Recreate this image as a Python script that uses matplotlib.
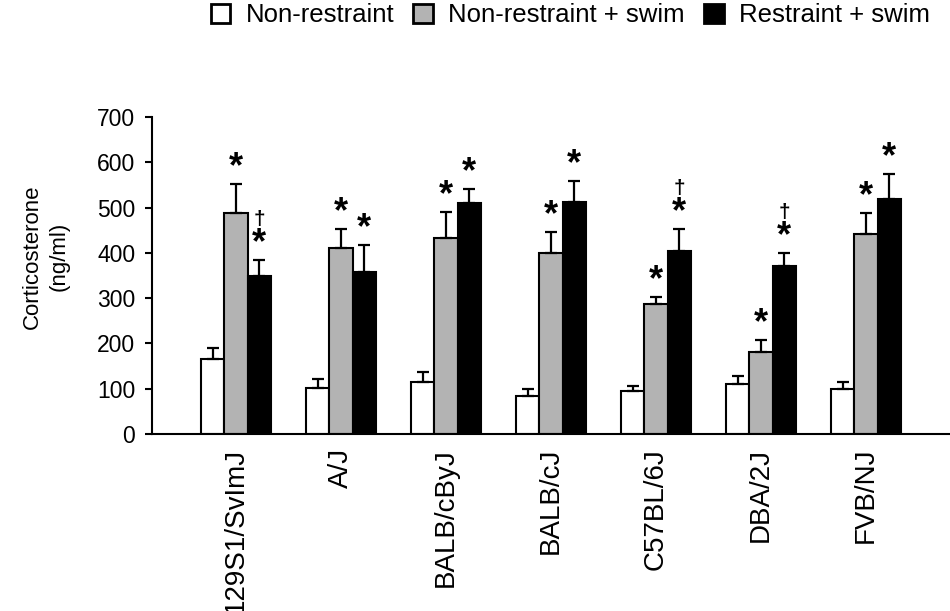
import numpy as np
import matplotlib.pyplot as plt
from matplotlib.patches import Patch

plt.rcParams['font.family'] = ['Liberation Sans', 'DejaVu Sans']

### data ###
strains = ['129S1/SvImJ', 'A/J', 'BALB/cByJ', 'BALB/cJ', 'C57BL/6J', 'DBA/2J', 'FVB/NJ']
non_restraint = [165, 102, 115, 84, 95, 110, 99]
non_restraint_err = [25, 19, 22, 15, 11, 18, 16]
nr_swim = [488, 411, 433, 400, 287, 181, 441]
nr_swim_err = [64, 42, 57, 46, 15, 26, 46]
r_swim = [349, 358, 510, 512, 404, 371, 519]
r_swim_err = [35, 59, 31, 47, 48, 28, 55]
# significance marks above bars (* vs non-restraint, † vs non-restraint + swim)
nr_swim_star = [1, 1, 1, 1, 1, 1, 1]
r_swim_star = [1, 1, 1, 1, 1, 1, 1]
r_swim_dagger = [1, 0, 0, 0, 1, 1, 0]

series = [
    ('Non-restraint', non_restraint, non_restraint_err, 'white', None, None),
    ('Non-restraint + swim', nr_swim, nr_swim_err, '#b3b3b3', nr_swim_star, None),
    ('Restraint + swim', r_swim, r_swim_err, 'black', r_swim_star, r_swim_dagger),
]

fig = plt.figure(figsize=(9.5, 6.11), dpi=100)
ax = fig.add_axes([0.16, 0.2897, 0.84, 0.5188])

x = np.arange(len(strains))
w = 0.22
handles = []
for k, (name, vals, errs, col, stars, daggers) in enumerate(series):
    pos = x + (k - 1) * w
    ax.bar(pos, vals, width=w, color=col, edgecolor='black', linewidth=1.5, zorder=2)
    ax.errorbar(pos, vals, yerr=[np.zeros(len(errs)), errs], fmt='none', ecolor='black',
                elinewidth=1.6, capsize=4, capthick=1.6, zorder=3)
    handles.append(Patch(facecolor=col, edgecolor='black', linewidth=2, label=name))
    if stars is None:
        continue
    for i in range(len(strains)):
        top = vals[i] + errs[i]
        if stars[i]:
            ax.annotate('*', (pos[i], top), xytext=(0, -1), textcoords='offset pixels',
                        ha='center', va='bottom', fontsize=26, fontweight='bold')
        if daggers is not None and daggers[i]:
            ax.annotate('\u2020', (pos[i], top), xytext=(0, 31), textcoords='offset pixels',
                        ha='center', va='bottom', fontsize=15, fontweight='bold')

ax.set_xlim(-0.8, 6.8)
ax.set_ylim(0, 700)
ax.set_yticks(range(0, 701, 100))
ax.set_xticks(x)
ax.set_xticklabels(strains, rotation=90, va='top', ha='center')
ax.tick_params(axis='x', length=0, pad=10, labelsize=20)
ax.tick_params(axis='y', length=5, width=1.5, pad=7, labelsize=16.5)
for s in ['top', 'right']:
    ax.spines[s].set_visible(False)
for s in ['left', 'bottom']:
    ax.spines[s].set_linewidth(1.5)

ax.set_ylabel('Corticosterone\n(ng/ml)', fontsize=16, linespacing=1.35)
ax.yaxis.set_label_coords(-0.103, 0.56)

fig.legend(handles=handles, loc='center right', bbox_to_anchor=(0.979, 0.975), ncol=3,
           frameon=False, fontsize=18.5, handlelength=0.77, handleheight=0.77,
           handletextpad=0.6, columnspacing=0.73, borderaxespad=0.0, borderpad=0.0)

fig.savefig('out.png', dpi=100)
